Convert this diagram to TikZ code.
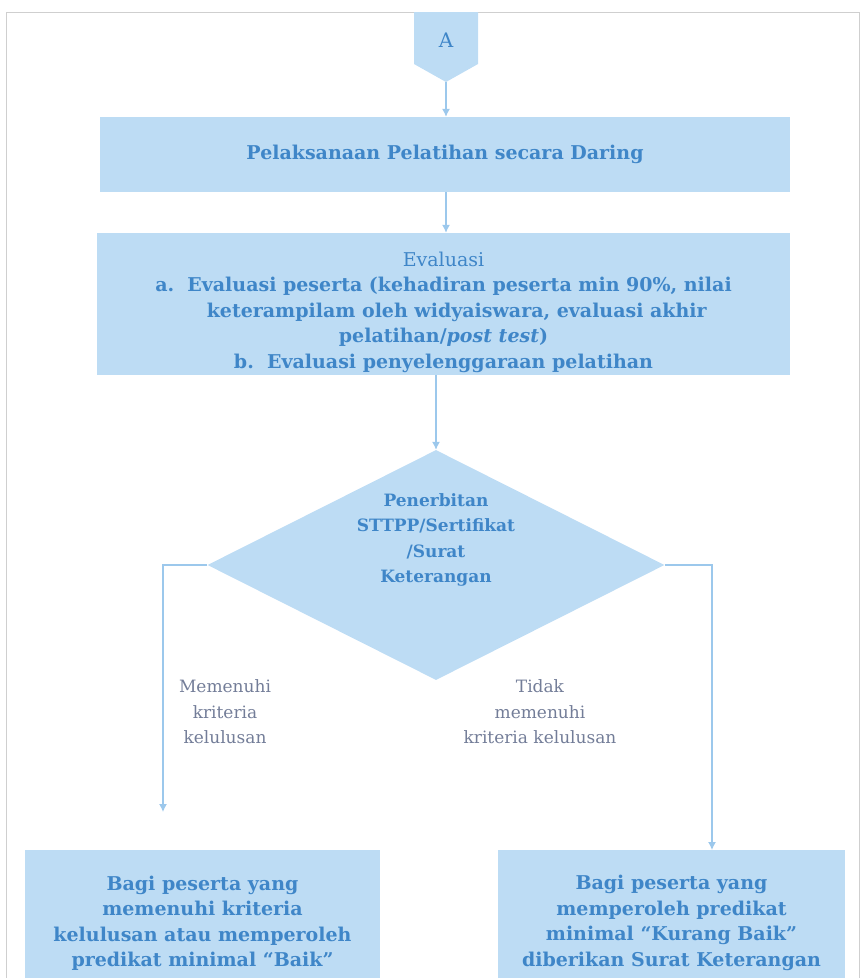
\documentclass[tikz,border=0pt]{standalone}
\usepackage{fontspec}
\setmainfont{DejaVu Serif}
\usetikzlibrary{shapes,arrows.meta}
\definecolor{boxfill}{HTML}{BDDCF4}
\definecolor{boxtext}{HTML}{3F86C8}
\definecolor{labeltext}{HTML}{737D98}
\definecolor{linecol}{HTML}{9CC8EC}
\definecolor{framecol}{HTML}{CFCFCF}

\begin{document}
\begin{tikzpicture}[x=1pt,y=-1pt,
  box/.style={fill=boxfill,text=boxtext,font=\bfseries\fontsize{19}{25.5}\selectfont,align=center,inner sep=0pt},
  boxtxt/.style={box,fill=none},
  lbl/.style={text=labeltext,font=\fontsize{17}{25.5}\selectfont,align=center},
  arr/.style={-{Latex[length=8pt,width=8pt]},linecol,line width=1.2pt}]
  \useasboundingbox (0,0) rectangle (862,978);
  \draw[framecol,thin] (6,990) -- (6,12) -- (859,12) -- (859,990);
  % off-page connector
  \fill[boxfill] (414,12) -- (478,12) -- (478,64) -- (446,82) -- (414,64) -- cycle;
  \node[text=boxtext,font=\fontsize{20}{24}\selectfont] (conA) at (446,40) {A};
  \coordinate (conAtip) at (446,82);
  \node[box,minimum width=690,minimum height=75] (daring) at (445,154.5) {Pelaksanaan Pelatihan secara Daring};
  \node[box,minimum width=693,minimum height=142] (evaluasi) at (443.5,304) {};
  \node[boxtxt] (evaluasiteks) at (443.5,312)
    {\mdseries Evaluasi\\
     a.\ \ Evaluasi peserta (kehadiran peserta min 90\%, nilai\\
     \ \ \ \ keterampilam oleh widyaiswara, evaluasi akhir\\
     pelatihan/\textit{post test})\\
     b.\ \ Evaluasi penyelenggaraan pelatihan};
  \node[diamond,fill=boxfill,minimum width=457,minimum height=230,inner sep=0pt] (terbit) at (436,565) {};
  \node[boxtxt,font=\bfseries\fontsize{17}{25.5}\selectfont] (terbitteks) at (436,540) {Penerbitan\\STTPP/Sertifikat\\/Surat\\Keterangan};
  \node[lbl] (lulus) at (225,712) {Memenuhi\\kriteria\\kelulusan};
  \node[lbl] (tidaklulus) at (540,712) {Tidak\\memenuhi\\kriteria kelulusan};
  \node[box,minimum width=355,minimum height=146] (baik) at (202.5,923)
    {Bagi peserta yang\\memenuhi kriteria\\kelulusan atau memperoleh\\predikat minimal “Baik”};
  \node[box,minimum width=347,minimum height=146] (kurang) at (671.5,923)
    {Bagi peserta yang\\memperoleh predikat\\minimal “Kurang Baik”\\diberikan Surat Keterangan};
  \coordinate (kiri) at (163,812);
  \coordinate (kanan) at (712,850);
  % connectors
  \draw[arr] (conAtip) -- (conAtip |- daring.north);
  \draw[arr] (conAtip |- daring.south) -- (conAtip |- evaluasi.north);
  \draw[arr] (terbit.north |- evaluasi.south) -- (terbit.north);
  \draw[arr] (terbit.west) -| (kiri);
  \draw[arr] (terbit.east) -| (kanan);
\end{tikzpicture}
\end{document}
